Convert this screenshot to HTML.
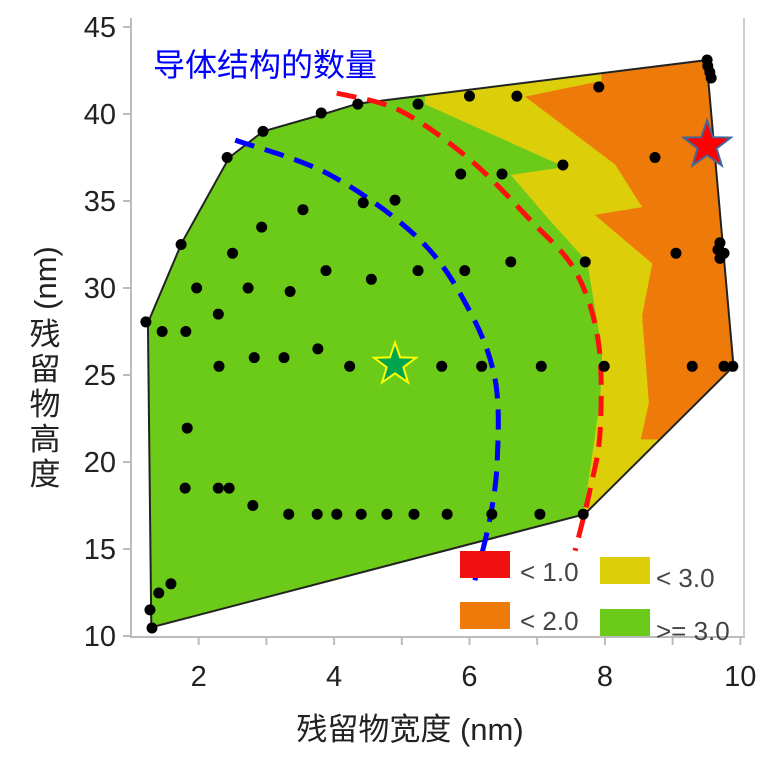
<!DOCTYPE html>
<html><head><meta charset="utf-8"><style>
body{margin:0;background:#fff;width:760px;height:774px;overflow:hidden}
svg{display:block}
text{font-family:"Liberation Sans","Noto Sans CJK SC",sans-serif}
</style></head><body>
<svg id="chart" width="760" height="774" viewBox="0 0 760 774" xmlns="http://www.w3.org/2000/svg">
<defs><clipPath id="hullClip"><path id="hullClipPath"/></clipPath></defs>
<g id="axes"></g>
<g id="regions"></g>
<g id="curves"></g>
<g id="points"></g>
<g id="stars"></g>
<rect x="146" y="42" width="244" height="40" fill="#fff"/>
<text x="153" y="76" font-size="32" fill="#0000ff">导体结构的数量</text>
<g id="legend">
<rect x="460" y="551" width="50" height="27" fill="#f01010"/>
<text x="520" y="581" font-size="26" fill="#444">&lt; 1.0</text>
<rect x="600" y="557" width="50" height="27" fill="#dccf0a"/>
<text x="656" y="587" font-size="26" fill="#444">&lt; 3.0</text>
<rect x="460" y="602" width="50" height="27" fill="#ee7a0a"/>
<text x="520" y="630" font-size="26" fill="#444">&lt; 2.0</text>
<rect x="600" y="609" width="50" height="27" fill="#6ccb18"/>
<text x="656" y="640" font-size="26" fill="#444">&gt;= 3.0</text>
</g>
<text x="410" y="740" font-size="31" fill="#222" text-anchor="middle">残留物宽度 (nm)</text>
<text transform="translate(56,278) rotate(-90)" font-size="31" fill="#222" text-anchor="middle">(nm)</text>
<text font-size="31" fill="#222" text-anchor="middle">
<tspan x="45" y="345">残</tspan><tspan x="45" y="380">留</tspan><tspan x="45" y="415">物</tspan><tspan x="45" y="450">高</tspan><tspan x="45" y="485">度</tspan></text>
</svg>
<script>
const xTicks=[2,4,6,8,10];
const yTicks=[10,15,20,25,30,35,40,45];
const hullX=[1.3,1.25,1.75,2.45,2.95,3.85,4.35,9.5,9.9,7.7];
const hullY=[10.5,28.0,32.6,37.5,39.0,40.0,40.6,43.1,25.5,17.0];
const yellowX=[5.34,7.41,6.61,7.16,7.74,7.96,7.93,7.78,7.68,10.5,10.5,5.34];
const yellowY=[40.57,36.95,36.5,34.0,31.5,26.3,23.6,19.5,17.0,17.0,46,46];
const orangeX=[7.95,6.82,8.15,8.55,7.85,8.70,8.55,8.65,8.53,8.85,10.5,10.5,7.95];
const orangeY=[41.9,41.0,37.1,34.65,34.2,31.4,28.4,23.4,21.3,21.3,21.3,46,46];
const ptX=[1.31,1.28,1.22,1.74,2.42,2.95,3.81,4.35,5.24,6.0,6.7,7.91,9.51,9.52,9.55,9.57,9.7,9.67,9.7,9.76,9.29,9.76,9.89,7.68,
1.41,1.59,1.46,1.81,1.83,1.97,2.29,2.3,2.5,2.73,2.82,2.93,3.26,3.35,3.54,3.76,3.88,4.23,4.43,4.55,4.9,5.24,5.59,5.87,5.93,6.18,6.48,6.61,7.06,7.38,7.71,7.99,8.74,9.05,
1.8,2.29,2.45,2.8,3.33,3.75,4.04,4.4,4.78,5.18,5.67,6.33,7.04];
const ptY=[10.46,11.5,28.05,32.5,37.5,39.0,40.06,40.57,40.57,41.03,41.03,41.55,43.1,42.76,42.4,42.07,32.6,32.2,31.7,32.0,25.5,25.5,25.5,17.0,
12.47,13.0,27.5,27.5,21.95,30.0,28.5,25.5,32.0,30.0,26.0,33.5,26.0,29.8,34.5,26.5,31.0,25.5,34.9,30.5,35.05,31.0,25.5,36.55,31.0,25.5,36.55,31.5,25.5,37.07,31.5,25.5,37.5,32.0,
18.5,18.5,18.5,17.5,17.0,17.0,17.0,17.0,17.0,17.0,17.0,17.0,17.0];
const blueX=[2.54,3.94,5.27,6.0,6.38,6.41,6.3,6.08];
const blueY=[38.5,36.5,32.76,28.7,24.7,20.1,16.7,13.2];
const redX=[4.04,4.97,6.0,6.9,7.56,7.9,7.93,7.78,7.56];
const redY=[41.2,40.2,37.4,33.9,31.0,27.0,21.8,18.4,14.9];
const starX=[4.9,9.51];
const starY=[25.6,38.2];

const X=v=>131+(v-1)*67.7;
const Y=v=>636-(v-10)*17.4;
const NS="http://www.w3.org/2000/svg";
function mk(tag,parent,attrs){const e=document.createElementNS(NS,tag);for(const k in attrs)e.setAttribute(k,attrs[k]);parent.appendChild(e);return e;}
function poly(xs,ys){return xs.map((x,i)=>(i?'L':'M')+X(x).toFixed(1)+','+Y(ys[i]).toFixed(1)).join('')+'Z';}
function smooth(xs,ys){const p=xs.map((x,i)=>[X(x),Y(ys[i])]);let d='M'+p[0];for(let i=0;i<p.length-1;i++){const p0=p[i-1]||p[i],p1=p[i],p2=p[i+1],p3=p[i+2]||p2;
d+='C'+(p1[0]+(p2[0]-p0[0])/6)+','+(p1[1]+(p2[1]-p0[1])/6)+' '+(p2[0]-(p3[0]-p1[0])/6)+','+(p2[1]-(p3[1]-p1[1])/6)+' '+p2[0]+','+p2[1];}return d;}
const axes=document.getElementById('axes');
let a=mk('line',axes,{x1:131,y1:18,x2:131,y2:637,stroke:'#bbb','stroke-width':2});

a=mk('line',axes,{x1:130,y1:637,x2:745,y2:637,stroke:'#bbb','stroke-width':2});

a=mk('line',axes,{x1:744,y1:18,x2:744,y2:637,stroke:'#ccc','stroke-width':2});

for(let v=2;v<=10;v++){const t=mk('line',axes,{x1:X(v),y1:637,x2:X(v),y2:645,stroke:'#bbb','stroke-width':2});
}
xTicks.forEach(v=>{const t=mk('text',axes,{x:X(v),y:686,'font-size':29,fill:'#222','text-anchor':'middle'});t.textContent=v;
});
yTicks.forEach(v=>{const l=mk('line',axes,{x1:123,y1:Y(v),x2:131,y2:Y(v),stroke:'#bbb','stroke-width':2});

const t=mk('text',axes,{x:116,y:Y(v)+10,'font-size':29,fill:'#222','text-anchor':'end'});t.textContent=v;
});
const hd=poly(hullX,hullY);
document.getElementById('hullClipPath').setAttribute('d',hd);
const reg=document.getElementById('regions');
let r=mk('path',reg,{d:hd,fill:'#6ccb18'});

r=mk('path',reg,{d:poly(yellowX,yellowY),fill:'#dccf0a','clip-path':'url(#hullClip)'});

r=mk('path',reg,{d:poly(orangeX,orangeY),fill:'#ee7a0a','clip-path':'url(#hullClip)'});

r=mk('path',reg,{d:hd,fill:'none',stroke:'#222','stroke-width':2});

const cv=document.getElementById('curves');
let c=mk('path',cv,{d:smooth(redX,redY),fill:'none',stroke:'#ff1010','stroke-width':5,'stroke-dasharray':'20 11'});

c=mk('path',cv,{d:smooth(blueX,blueY),fill:'none',stroke:'#0000ff','stroke-width':5,'stroke-dasharray':'20 11'});

const pg=document.getElementById('points');
ptX.forEach((x,i)=>{const p=mk('circle',pg,{cx:X(x),cy:Y(ptY[i]),r:5.5,fill:'#000'});
});
function star(cx,cy,R){let s='';for(let i=0;i<10;i++){const rr=i%2?R*0.4:R,an=-Math.PI/2+i*Math.PI/5;s+=(cx+rr*Math.cos(an)).toFixed(1)+','+(cy+rr*Math.sin(an)).toFixed(1)+' ';}return s;}
const sg=document.getElementById('stars');
let s=mk('polygon',sg,{points:star(X(starX[0]),Y(starY[0]),22),fill:'#00a550',stroke:'#ffff00','stroke-width':2});

s=mk('polygon',sg,{points:star(X(starX[1]),Y(starY[1]),25),fill:'#ff0000',stroke:'#44679a','stroke-width':2});

</script>
</body></html>
